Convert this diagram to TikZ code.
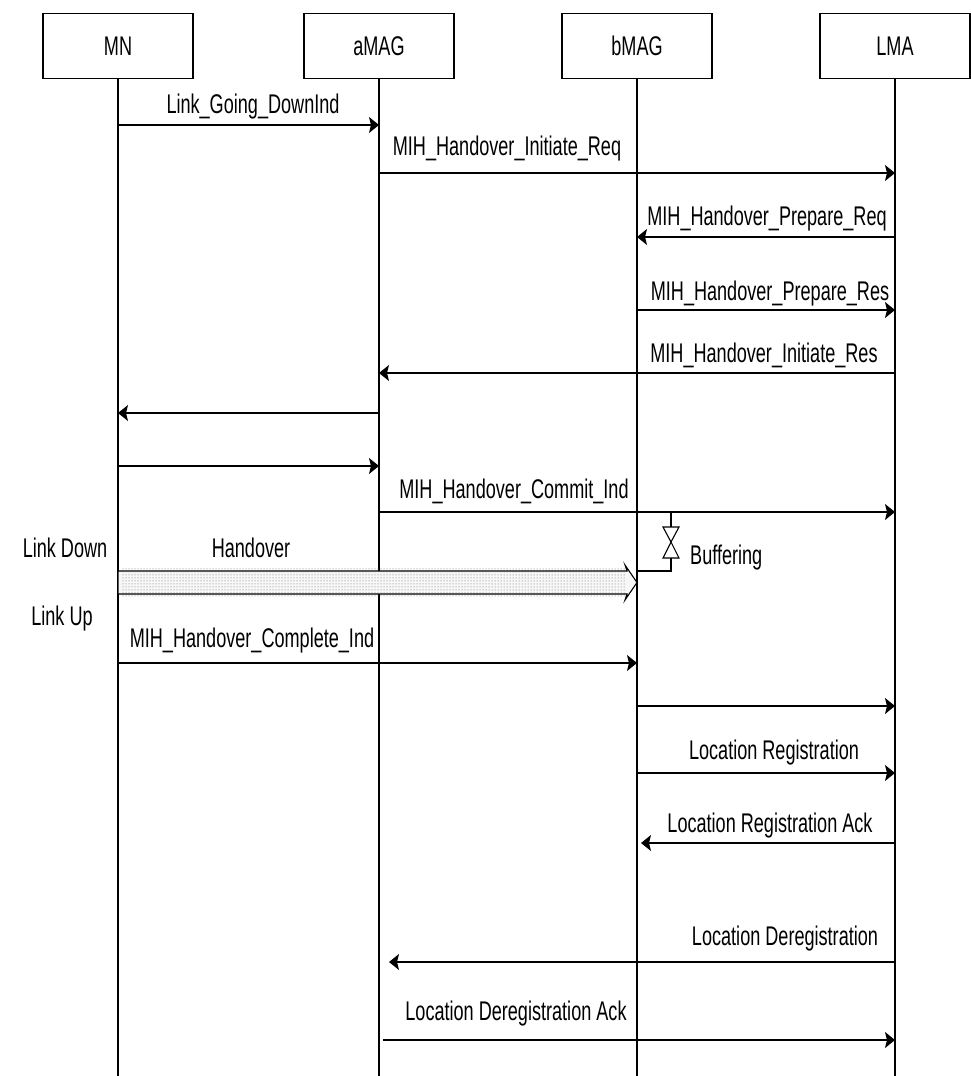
\documentclass[tikz,border=0pt]{standalone}
\usepackage{fontspec}
\setmainfont{Liberation Sans}[FakeStretch=0.67]
\usetikzlibrary{arrows.meta,calc,patterns}
\begin{document}
\begin{tikzpicture}[x=1pt,y=-1pt,
  every node/.style={font=\fontsize{27}{30}\selectfont, inner sep=0pt},
  actor/.style={draw, line width=1.3pt, minimum width=150pt, minimum height=65pt},
  msg/.style={line width=1.2pt, -{Stealth[length=10pt,width=16pt,inset=2pt]}},
  life/.style={line width=1.2pt},
  lbl/.style={anchor=base}]
\useasboundingbox (0,0) rectangle (970,1076);
% actors
\node[actor] (mn)   at (118,46) {MN};
\node[actor] (amag) at (379,46) {aMAG};
\node[actor] (bmag) at (637,46) {bMAG};
\node[actor] (lma)  at (895,46) {LMA};
\coordinate (bot) at (0,1076);
\foreach \a in {mn,amag,bmag,lma}{\draw[life] (\a.south) -- (\a |- bot);}
% rows
\coordinate (r1) at (0,125);
\coordinate (r2) at (0,173);
\coordinate (r3) at (0,237);
\coordinate (r4) at (0,310);
\coordinate (r5) at (0,373);
\coordinate (r6) at (0,413);
\coordinate (r7) at (0,466);
\coordinate (r8) at (0,512);
\coordinate (r13) at (0,663);
\coordinate (r14) at (0,706);
\coordinate (r15) at (0,773);
\coordinate (r16) at (0,843);
\coordinate (r17) at (0,962);
\coordinate (r18) at (0,1040);
% messages
\draw[msg] (mn |- r1) -- (amag |- r1);
\draw[msg] (amag |- r2) -- (lma |- r2);
\draw[msg] (lma |- r3) -- (bmag |- r3);
\draw[msg] (bmag |- r4) -- (lma |- r4);
\draw[msg] (lma |- r5) -- (amag |- r5);
\draw[msg] (amag |- r6) -- (mn |- r6);
\draw[msg] (mn |- r7) -- (amag |- r7);
\draw[msg] (amag |- r8) -- (lma |- r8);
\draw[msg] (mn |- r13) -- (bmag |- r13);
\draw[msg] (bmag |- r14) -- (lma |- r14);
\draw[msg] (bmag |- r15) -- (lma |- r15);
\draw[msg] (lma |- r16) -- ($(bmag |- r16)+(4,0)$);
\draw[msg] (lma |- r17) -- ($(amag |- r17)+(10,0)$);
\draw[msg] ($(amag |- r18)+(4,0)$) -- (lma |- r18);
% labels
\node[lbl] (t1)  at (253,113)  {Link\_Going\_DownInd};
\node[lbl] (t2)  at (507,155)  {MIH\_Handover\_Initiate\_Req};
\node[lbl] (t3)  at (767,225)  {MIH\_Handover\_Prepare\_Req};
\node[lbl] (t4)  at (770,300)  {MIH\_Handover\_Prepare\_Res};
\node[lbl] (t5)  at (764,362)  {MIH\_Handover\_Initiate\_Res};
\node[lbl] (t8)  at (514,498)  {MIH\_Handover\_Commit\_Ind};
\node[lbl] (tld) at (65,557)   {Link Down};
\node[lbl] (tho) at (251,557)  {Handover};
\node[lbl] (tlu) at (62,625)   {Link Up};
\node[lbl] (t13) at (252,647)  {MIH\_Handover\_Complete\_Ind};
\node[lbl] (t15) at (774,759)  {Location Registration};
\node[lbl] (t16) at (770,832)  {Location Registration Ack};
\node[lbl] (t17) at (785,945)  {Location Deregistration};
\node[lbl] (t18) at (516,1020) {Location Deregistration Ack};
% handover band
\coordinate (b1) at (0,571);
\coordinate (bm) at (0,582.5);
\coordinate (b2) at (0,594);
\filldraw[line width=1.1pt, fill=gray!6]
  (mn |- b1) -- ($(bmag |- b1)+(-10,0)$) -- ($(bmag |- b1)+(-12,-6)$)
  -- (bmag |- bm) -- ($(bmag |- b2)+(-12,6)$) -- ($(bmag |- b2)+(-10,0)$)
  -- (mn |- b2) -- cycle;
\fill[pattern=dots, pattern color=gray!80!black] ($(mn |- b1)+(3,-3)$) rectangle ($(bmag |- b2)+(-12,3)$);
% buffering
\coordinate (bf) at ($(bmag |- r8)+(34,0)$);
\draw[line width=1.1pt] (bf) -- ++(0,15) coordinate (bt);
\draw[line width=1.1pt] (bt) -- ++(-8,0) -- ++(8,15) coordinate (bc) -- ++(8,-15) -- cycle;
\draw[line width=1.1pt] (bc) -- ++(-8,16) -- ++(16,0) -- cycle;
\draw[line width=1.1pt] ($(bc)+(0,16)$) -- ($(bf |- b1)$) -- (bmag |- b1);
\node[anchor=base west] (tbuf) at (690,564) {Buffering};
\end{tikzpicture}
\end{document}
